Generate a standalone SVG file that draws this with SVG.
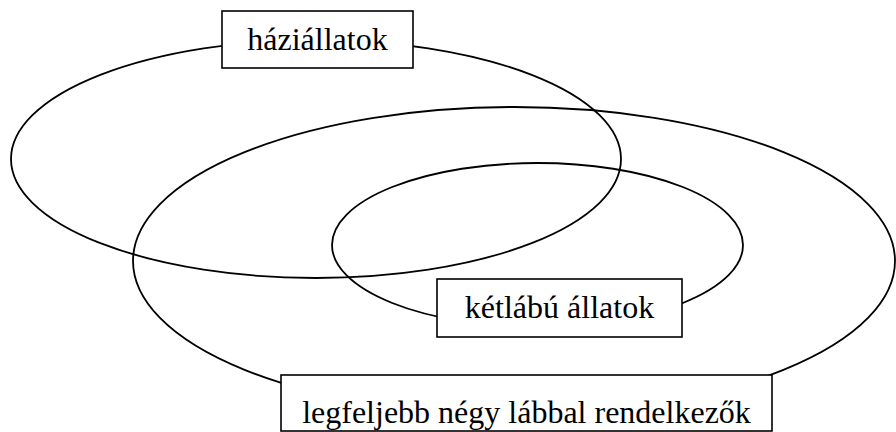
<svg xmlns="http://www.w3.org/2000/svg" width="896" height="432" viewBox="0 0 896 432">
  <style>
    .set { fill: none; stroke: #000; stroke-width: 1.8; }
    .box { fill: #fff; stroke: #000; stroke-width: 1.6; }
    .lbl { font-size: 32px; fill: #000; text-anchor: middle; }
  </style>
  <rect x="0" y="0" width="896" height="432" fill="#fff"/>
  <g id="sets">
    <g id="set-haziallatok"><ellipse class="set" cx="316" cy="159" rx="305" ry="119"/></g>
    <g id="set-negy-lab"><ellipse class="set" cx="514" cy="261" rx="381" ry="154"/></g>
    <g id="set-ketlabu"><ellipse class="set" cx="537.5" cy="245" rx="205.5" ry="82"/></g>
  </g>
  <g id="connectors"></g>
  <g id="label-haziallatok">
    <rect class="box" x="222" y="11" width="191" height="57"/>
    <text class="lbl" font-family="'Liberation Serif', 'Times New Roman', 'DejaVu Serif', serif" x="317.5" y="50">háziállatok</text>
  </g>
  <g id="label-ketlabu">
    <rect class="box" x="437" y="279" width="245" height="58"/>
    <text class="lbl" font-family="'Liberation Serif', 'Times New Roman', 'DejaVu Serif', serif" x="559.5" y="318">kétlábú állatok</text>
  </g>
  <g id="label-negy-lab">
    <rect class="box" x="281" y="375" width="491" height="56"/>
    <text class="lbl" font-family="'Liberation Serif', 'Times New Roman', 'DejaVu Serif', serif" x="526.5" y="423">legfeljebb négy lábbal rendelkezők</text>
  </g>
</svg>
